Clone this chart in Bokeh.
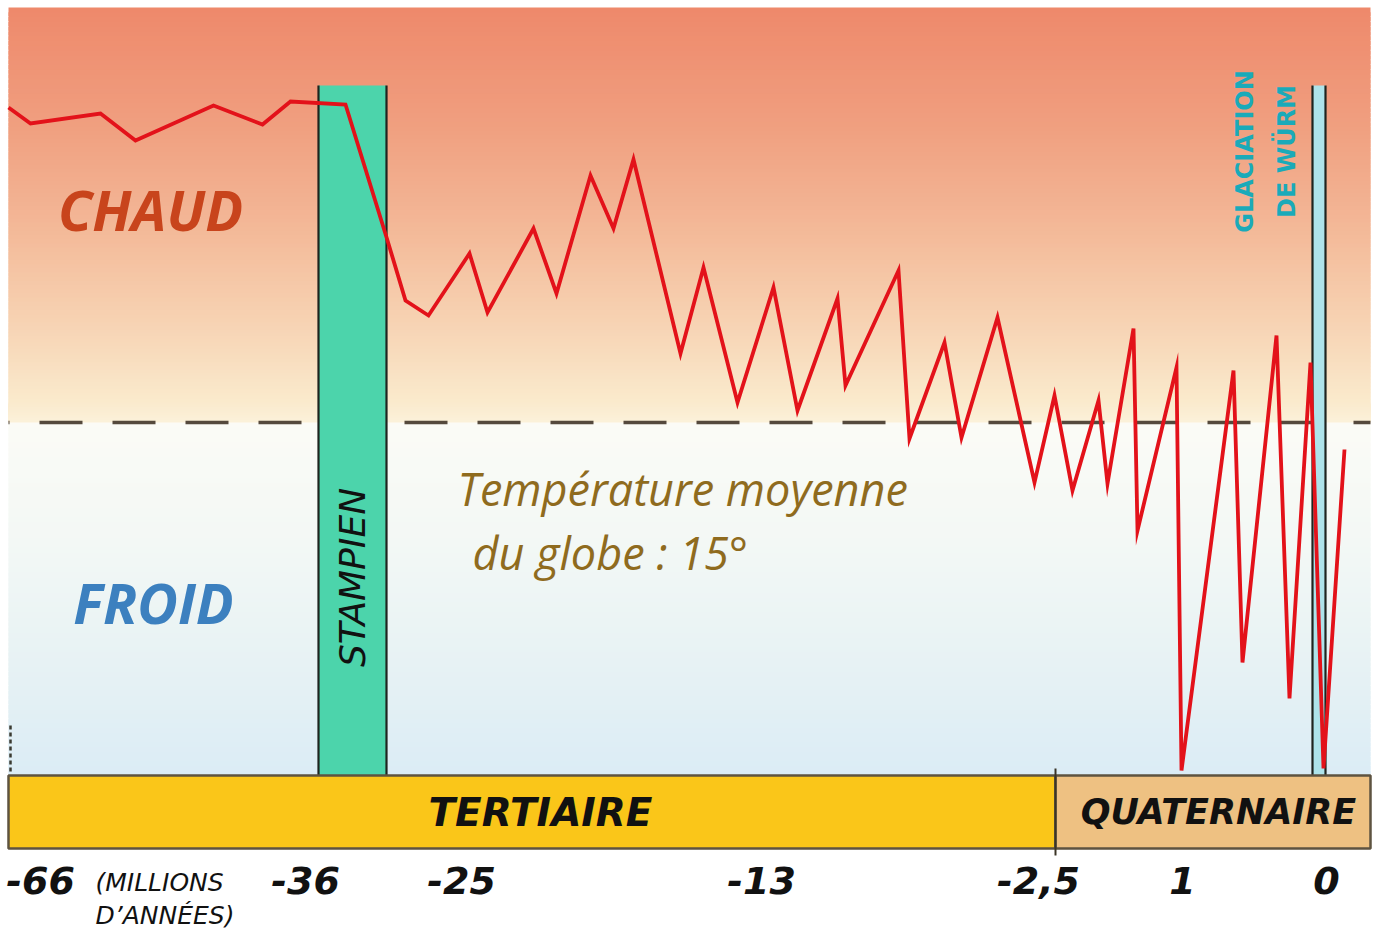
import numpy as np
from bokeh.plotting import figure
from bokeh.models import Range1d, Label
from bokeh.core.properties import value
from bokeh.embed import file_html
from bokeh.resources import INLINE

# ---------------- data ----------------
# x : horizontal position on the (non-linear) time scale of the drawing
# y : global temperature relative to the 15° mean (arbitrary units, 0 = 15°)
temp_x = [0, 22, 92, 127, 205, 254, 282, 337, 379, 397, 420, 461, 479, 525, 548,
          582, 605, 625, 672, 695, 729, 765, 789, 829, 837, 890, 901, 936, 953,
          989, 1026, 1046, 1064, 1090, 1099, 1125, 1129, 1168, 1173, 1225, 1234,
          1268, 1281, 1302, 1315, 1336]
temp_y = [31.5, 29.9, 30.9, 28.2, 31.7, 29.8, 32.1, 31.8, 18.2, 12.2, 10.7, 16.9,
          11.0, 19.4, 12.9, 24.7, 19.4, 26.3, 6.9, 15.5, 2.0, 13.5, 1.2, 12.4, 3.7,
          15.2, -1.6, 8.0, -1.5, 10.5, -6.0, 2.7, -6.8, 2.2, -6.1, 9.4, -10.8, 5.5,
          -34.8, 5.2, -24.0, 8.7, -27.6, 6.0, -34.6, -2.7]

tick_pos = [32, 297, 453, 753, 1030, 1174, 1318]
tick_labels = ["-66", "-36", "-25", "-13", "-2,5", "1", "0"]
unit_label = ["(MILLIONS", "D’ANNÉES)"]

eras = ["TERTIAIRE", "QUATERNAIRE"]
era_start = [0, 1047]
era_end = [1047, 1362]
era_colors = ["#FAC619", "#EEC182"]

periods = ["STAMPIEN", "GLACIATION", "DE WÜRM"]
period_start = [310, 1304]
period_end = [378, 1317]
period_colors = ["#4CD4AB", "#AEE3EA"]

mean_temp_level = 0.0

# ---------------- layout constants ----------------
Y_TOP_BG = 41.5
BG_RIGHT = 1362
ERA_TOP, ERA_BOT = -35.3, -42.6
BAND_TOP = 33.7
TICK_Y = -45.8

p = figure(width=1375, height=934, output_backend="svg", toolbar_location=None,
           x_range=Range1d(-8, 1367), y_range=Range1d(-51.2, 42.2),
           x_axis_location=None, y_axis_location=None,
           min_border_left=0, min_border_right=0,
           min_border_top=0, min_border_bottom=0)
p.grid.visible = False
p.outline_line_color = None
p.background_fill_color = "white"
p.border_fill_color = "white"

# ---------------- background gradient (warm above, cool below) ----------------
def hex2rgb(h):
    h = h.lstrip("#")
    return np.array([int(h[i:i + 2], 16) for i in (0, 2, 4)], dtype=float)

def gradient(stops, n_per, floor):
    tops, bots, cols = [], [], []
    for (ya, ca), (yb, cb) in zip(stops[:-1], stops[1:]):
        a, b = hex2rgb(ca), hex2rgb(cb)
        edges = np.linspace(ya, yb, n_per + 1)
        for i in range(n_per):
            t = (i + 0.5) / n_per
            c = a + (b - a) * t
            tops.append(edges[i])
            # overlap each strip a little onto the next to hide seams
            bots.append(max(edges[i + 1] - 0.4, floor))
            cols.append("#%02x%02x%02x" % tuple(int(round(v)) for v in c))
    return tops, bots, cols

warm = [(Y_TOP_BG, "#EE896B"), (30.0, "#F09E7F"), (20.0, "#F3B796"),
        (10.0, "#F7D3B3"), (2.0, "#FAEACD"), (0.0, "#FBF1DA")]
cool = [(0.0, "#FBFBF6"), (-12.0, "#F3F8F5"), (-24.0, "#E7F2F4"), (ERA_TOP, "#DBECF5")]
for stops in (warm, cool):
    t, b, c = gradient(stops, 24, stops[-1][0])
    p.quad(left=0, right=BG_RIGHT, top=t, bottom=b, fill_color=c, line_color=None)

# ---------------- mean temperature dashed line ----------------
p.line(x=[0, BG_RIGHT], y=[mean_temp_level, mean_temp_level], line_color="#43362A",
       line_width=3.5, line_dash="43 30", line_dash_offset=42, line_alpha=0.9)

# ---------------- period bands ----------------
p.quad(left=period_start, right=period_end, top=BAND_TOP, bottom=ERA_TOP,
       fill_color=period_colors, line_color=None)
p.segment(x0=period_start + period_end, x1=period_start + period_end,
          y0=BAND_TOP, y1=ERA_TOP, line_color="#1E241F", line_width=2.2)

# small dashed mark at left edge
p.line(x=[2, 2], y=[-30.3, -35.0], line_color="#3A3A30", line_width=2.5, line_dash="4 3")

# ---------------- era bar ----------------
p.quad(left=era_start, right=era_end, top=ERA_TOP, bottom=ERA_BOT,
       fill_color=era_colors, line_color="#5E5340", line_width=2.5)
p.segment(x0=era_end[0], x1=era_end[0], y0=-34.6, y1=-43.3,
          line_color="#3A3426", line_width=2)
era_y = (ERA_TOP + ERA_BOT) / 2
p.text(x=[532], y=[era_y], text=[eras[0]],
       text_align="center", text_baseline="middle", text_color="#111111",
       text_font=value("DejaVu Sans"), text_font_style="bold italic",
       text_font_size="39px")
p.text(x=[1210], y=[era_y], text=[eras[1]],
       text_align="center", text_baseline="middle", text_color="#111111",
       text_font=value("DejaVu Sans"), text_font_style="bold italic",
       text_font_size="35px")

# ---------------- temperature curve ----------------
p.line(x=temp_x, y=temp_y, line_color="#E3121A", line_width=3.8,
       line_join="miter")

# ---------------- time tick labels ----------------
p.text(x=tick_pos, y=[TICK_Y] * len(tick_pos), text=tick_labels,
       text_align="center", text_baseline="middle", text_color="#111111",
       text_font=value("DejaVu Sans"), text_font_style="bold italic",
       text_font_size="38px")
p.text(x=[87, 87], y=[-46.0, -49.3], text=unit_label,
       text_align="left", text_baseline="middle", text_color="#111111",
       text_font=value("DejaVu Sans"), text_font_style="italic",
       text_font_size="25px")

# ---------------- texts ----------------
p.text(x=[344], y=[-15.5], text=[periods[0]], angle=np.pi / 2,
       text_align="center", text_baseline="middle",
       text_font=value("DejaVu Sans"), text_font_style="italic",
       text_font_size="36px", text_color="#111111")
p.text(x=[1236, 1278], y=[27.1, 27.1], text=periods[1:], angle=np.pi / 2,
       text_align="center", text_baseline="middle",
       text_font=value("DejaVu Sans"), text_font_style="bold",
       text_font_size="24px", text_color="#1AAAB9")

p.add_layout(Label(x=142, y=21.4, text="CHAUD", text_align="center",
                   text_baseline="middle", text_font="Open Sans",
                   text_font_style="bold italic", text_font_size="56px",
                   text_color="#C8441C"))
p.add_layout(Label(x=145, y=-17.9, text="FROID", text_align="center",
                   text_baseline="middle", text_font="Open Sans",
                   text_font_style="bold italic", text_font_size="56px",
                   text_color="#3C80BF"))

p.add_layout(Label(x=449, y=-6.6, text="Température moyenne", text_align="left",
                   text_baseline="middle", text_font="Open Sans",
                   text_font_style="italic", text_font_size="45px",
                   text_color="#8F6B1E"))
p.add_layout(Label(x=464, y=-13.0, text="du globe : 15°", text_align="left",
                   text_baseline="middle", text_font="Open Sans",
                   text_font_style="italic", text_font_size="45px",
                   text_color="#8F6B1E"))

open("out.html", "w").write(file_html(p, INLINE))
